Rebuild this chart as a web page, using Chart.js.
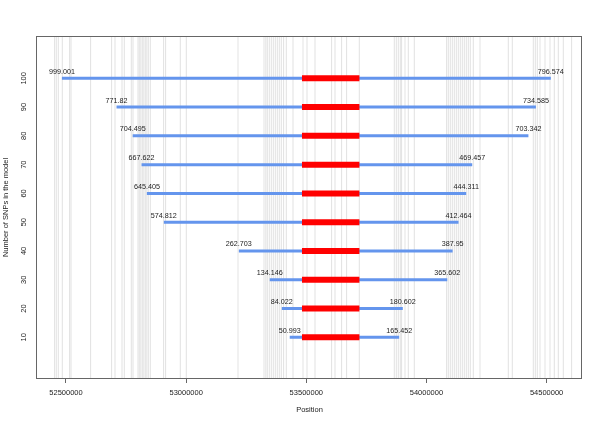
<!DOCTYPE html>
<html>
<head>
<meta charset="utf-8">
<script src="https://cdn.jsdelivr.net/npm/chart.js@4/dist/chart.umd.min.js"></script>
<style>
html,body{margin:0;padding:0;background:#fff;}
</style>
</head>
<body>
<canvas id="myChart" width="600" height="425"></canvas>
<script>
// number of SNPs in the model (one row per model)
const modelSizes = [100, 90, 80, 70, 60, 50, 40, 30, 20, 10];
// extension (kb) left and right of the core region
const leftKb = [999.001, 771.82, 704.495, 667.622, 645.405, 574.812, 262.703, 134.146, 84.022, 50.993];
const rightKb = [796.574, 734.585, 703.342, 469.457, 444.311, 412.464, 387.95, 365.602, 180.602, 165.452];
// core region (red)
const coreStart = 53482000;
const coreEnd = 53721000;
const xTicks = [52500000, 53000000, 53500000, 54000000, 54500000];
const yTicks = [10, 20, 30, 40, 50, 60, 70, 80, 90, 100];
// SNP positions (grey vertical lines)
const snpPositions = [
  52452560, 52459600, 52467960, 52484600, 52514980, 52520810, 52602370, 52689770, 52703910,
  52733040, 52742620, 52771750, 52778820, 52799630, 52805040, 52811280, 52817520, 52823760,
  52830000, 52836240, 52842490, 52850810, 52906160, 52914490, 52975660, 53000630, 53215780,
  53323980, 53331470, 53337710, 53346030, 53354360, 53362680, 53371010, 53379330, 53387650,
  53395980, 53405540, 53416780, 53444660, 53486280, 53502920, 53536210, 53605300, 53619440,
  53646910, 53667720, 53720570, 53866230, 53874550, 53882870, 53891190, 53896600, 53910750,
  53924480, 53949450, 54083880, 54090950, 54099270, 54107600, 54115920, 54124240, 54132570,
  54140890, 54149210, 54157540, 54165860, 54174180, 54182510, 54194990, 54222860, 54340630,
  54357280, 54444700, 54453020, 54461340, 54472580, 54493360, 54514170, 54532070, 54548720,
  54569530, 54604070
];

const xMin = 52379320, xMax = 54647330;
const yMin = -4.5, yMax = 114.7;

const datasets = [];
snpPositions.forEach(function(p){
  datasets.push({
    data: [{x: p, y: yMin}, {x: p, y: yMax}],
    borderColor: "rgba(190,190,190,0.45)",
    borderWidth: 1,
    order: 3
  });
});
modelSizes.forEach(function(m, i){
  datasets.push({
    data: [{x: coreStart - leftKb[i] * 1000, y: m}, {x: coreEnd + rightKb[i] * 1000, y: m}],
    borderColor: "#6495ED",
    borderWidth: 3,
    order: 2
  });
  datasets.push({
    data: [{x: coreStart, y: m}, {x: coreEnd, y: m}],
    borderColor: "#FF0000",
    borderWidth: 6,
    order: 1
  });
});

const extras = {
  id: "extras",
  afterDatasetsDraw(chart){
    const ctx = chart.ctx, a = chart.chartArea;
    const x = chart.scales.x, y = chart.scales.y;
    ctx.save();
    ctx.font = '7.2px "Liberation Sans"';
    ctx.fillStyle = "#222";
    ctx.textAlign = "center";
    ctx.textBaseline = "middle";
    modelSizes.forEach(function(m, i){
      const py = y.getPixelForValue(m) - 6.5;
      ctx.fillText(String(leftKb[i]), x.getPixelForValue(coreStart - leftKb[i] * 1000), py);
      ctx.fillText(String(rightKb[i]), x.getPixelForValue(coreEnd + rightKb[i] * 1000), py);
    });
    ctx.strokeStyle = "#666";
    ctx.lineWidth = 1;
    ctx.strokeRect(a.left - 0.5, a.top + 0.5, a.right - a.left, a.bottom - a.top - 1);
    ctx.restore();
  }
};

const font = {family: "Liberation Sans", size: 7.5};

new Chart(document.getElementById("myChart"), {
  type: "line",
  data: {datasets: datasets},
  options: {
    responsive: false,
    animation: false,
    layout: {padding: {left: 0, right: 18, top: 36, bottom: 0}},
    elements: {
      point: {radius: 0, hoverRadius: 0},
      line: {borderCapStyle: "butt", tension: 0}
    },
    plugins: {legend: {display: false}, tooltip: {enabled: false}},
    scales: {
      x: {
        type: "linear",
        min: xMin,
        max: xMax,
        afterFit: function(s){ s.height = 46; },
        afterBuildTicks: function(s){ s.ticks = xTicks.map(function(v){ return {value: v}; }); },
        grid: {drawOnChartArea: false, drawTicks: true, tickLength: 4, color: "#666"},
        border: {display: false},
        ticks: {font: font, color: "#222", padding: 5, maxRotation: 0, autoSkip: false,
          callback: function(v){ return String(v); }},
        title: {display: true, text: "Position", font: font, color: "#222", padding: {top: 0, bottom: 10.5}}
      },
      y: {
        type: "linear",
        min: yMin,
        max: yMax,
        afterFit: function(s){ s.width = 37; },
        afterBuildTicks: function(s){ s.ticks = yTicks.map(function(v){ return {value: v}; }); },
        grid: {display: false, drawTicks: false},
        border: {display: false},
        ticks: {font: font, color: "#222", padding: 7, minRotation: 90, maxRotation: 90,
          crossAlign: "center", autoSkip: false},
        title: {display: true, text: "Number of SNPs in the model", font: font, color: "#222", padding: {top: 1, bottom: 0}}
      }
    }
  },
  plugins: [extras]
});
</script>
</body>
</html>
